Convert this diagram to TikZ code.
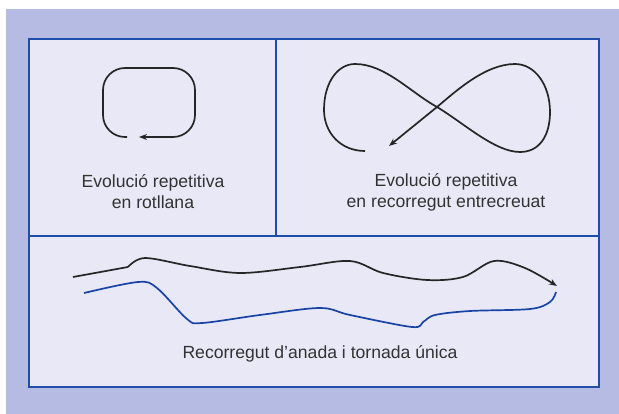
\documentclass[tikz,border=0pt]{standalone}
\usepackage{fontspec}
\setmainfont{Liberation Sans}
\usetikzlibrary{arrows.meta}
\definecolor{bgl}{HTML}{B5BBE2}
\definecolor{panel}{HTML}{E8E8F6}
\definecolor{frame}{HTML}{1F4DAA}
\definecolor{bluec}{HTML}{1844A6}
\definecolor{txt}{HTML}{333333}
\tikzset{
  lbl/.style={text=txt, font=\fontsize{17.6}{21}\selectfont, align=center, inner sep=0pt},
  curve/.style={line width=1.7pt, draw=black!85},
  tip/.style={-{Stealth[length=8pt,width=6pt]}},
  panelline/.style={draw=frame, line width=1.6pt}
}
\begin{document}
\begin{tikzpicture}[x=1pt,y=-1pt]
\useasboundingbox (0,0) rectangle (619,414);
\fill[bgl] (6,9) rectangle (619,414);
\fill[panel] (29,39) rectangle (599,387);
\draw[panelline] (29,39) rectangle (599,387);
\draw[panelline] (29,236) -- (599,236);
\draw[panelline] (276,39) -- (276,236);
% loop
\draw[curve, tip, rounded corners=22pt] (127,137) -- (103,137) -- (103,68) -- (195,68) -- (195,137) -- (139,137);
\node[lbl] (t1) at (153,192) {Evolució repetitiva\\en rotllana};
% figure eight
\draw[curve, tip] (365,151) .. controls (340,151) and (324,132) .. (324,110)
  .. controls (324,82) and (338,64) .. (355,64)
  .. controls (385,64) and (410,92) .. (437,107)
  .. controls (465,124) and (495,152) .. (520,152)
  .. controls (540,152) and (550,135) .. (550,112)
  .. controls (550,85) and (535,64) .. (515,64)
  .. controls (485,64) and (455,92) .. (437,107)
  -- (389,146);
\node[lbl] (t2) at (446,192) {Evolució repetitiva\\en recorregut entrecreuat};
% bottom
\draw[curve] (73,277) -- (128,267);
\draw[curve, tip] plot[smooth, tension=0.55] coordinates {(128,267) (145,258) (190,266) (240,273) (300,267) (350,261) (383,273) (427,280) (463,277) (494,261) (525,268) (557,286)};
\draw[curve, draw=bluec] plot[smooth, tension=0.55] coordinates {(84,293) (138,282) (157,288) (187,319) (202,323) (260,315) (320,308) (350,315) (412,327) (423,322) (435,315) (470,311) (530,309) (550,302) (556,292)};
\node[lbl] (t3) at (320,354) {Recorregut d’anada i tornada única};
\end{tikzpicture}
\end{document}
